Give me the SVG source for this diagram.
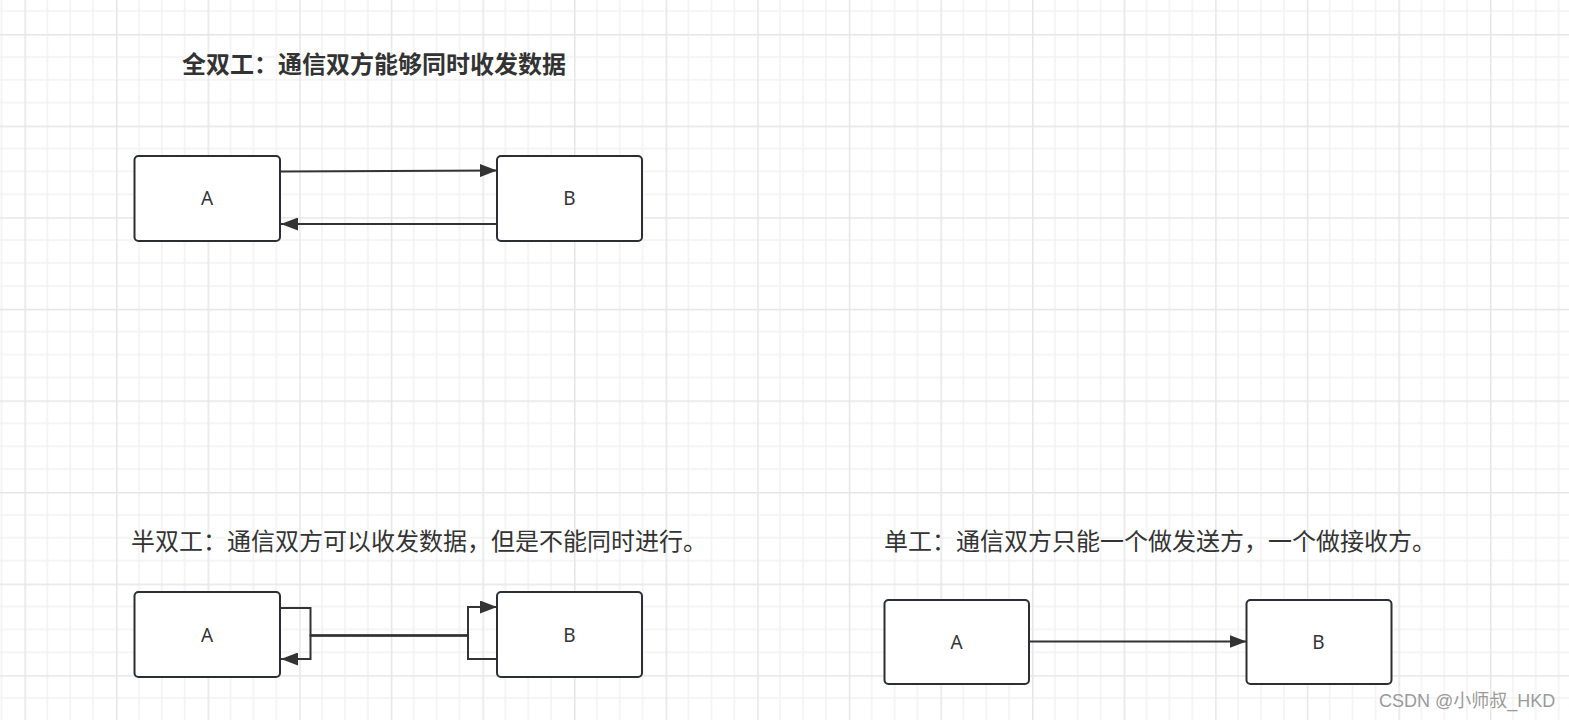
<svg xmlns="http://www.w3.org/2000/svg" width="1569" height="720" viewBox="0 0 1569 720">
<style>
.node rect{fill:#fff;stroke:#2b2e33;stroke-width:2}
.node text{font-family:"Noto Sans","Liberation Sans",sans-serif;font-size:19px;fill:#333;text-anchor:middle}
.conn{fill:none;stroke:#333;stroke-width:2}
.title{font-family:"Noto Sans CJK SC",sans-serif;font-size:24px;fill:#333}
</style>
<defs>
<pattern id="grid" x="116" y="34" width="91.6" height="91.6" patternUnits="userSpaceOnUse">
<path d="M22.9 0V91.6M45.8 0V91.6M68.7 0V91.6M0 22.9H91.6M0 45.8H91.6M0 68.7H91.6" stroke="#f2f2f2" stroke-width="1.5" fill="none"/>
<path d="M0.75 0V91.6M0 0.75H91.6" stroke="#e6e6e6" stroke-width="1.5" fill="none"/>
</pattern>
<marker id="arr" viewBox="0 0 17 13" refX="17" refY="6.5" markerWidth="17" markerHeight="13" markerUnits="userSpaceOnUse" orient="auto">
<path d="M0 0L17 6.5L0 13Z" fill="#333"/>
</marker>
</defs>
<rect width="1569" height="720" fill="#fff"/>
<rect width="1569" height="720" fill="url(#grid)"/>

<text class="title" x="182" y="73" font-weight="bold">全双工：通信双方能够同时收发数据</text>
<text class="title" x="131" y="550" font-size="23.5">半双工：通信双方可以收发数据，但是不能同时进行。</text>
<text class="title" x="884" y="550" font-size="23.5">单工：通信双方只能一个做发送方，一个做接收方。</text>

<g id="full-a" class="node"><rect x="134.5" y="156" width="145.5" height="85" rx="4"/><text x="207" y="205">A</text></g>
<g id="full-b" class="node"><rect x="497" y="156" width="145" height="85" rx="4"/><text x="569.5" y="205">B</text></g>
<g id="half-a" class="node"><rect x="134.5" y="592" width="145.5" height="85" rx="4"/><text x="207" y="642">A</text></g>
<g id="half-b" class="node"><rect x="497" y="592" width="145" height="85" rx="4"/><text x="569.5" y="642">B</text></g>
<g id="simplex-a" class="node"><rect x="884.5" y="600" width="144.5" height="84" rx="4"/><text x="956.5" y="649">A</text></g>
<g id="simplex-b" class="node"><rect x="1246.5" y="600" width="145" height="84" rx="4"/><text x="1318.5" y="649">B</text></g>

<g id="connectors">
<path class="conn" d="M281 171.5L497 170.5" marker-end="url(#arr)"/>
<path class="conn" d="M497 224L281 224" marker-end="url(#arr)"/>
<path class="conn" d="M281 608H310.5V635.5H468V607H497" marker-end="url(#arr)"/>
<path class="conn" d="M497 659H468V635.5H310.5V659H281" marker-end="url(#arr)"/>
<path class="conn" d="M310.5 635.5H468" stroke-width="3"/>
<path class="conn" d="M1030 641.5H1246.5" marker-end="url(#arr)"/>
</g>

<text x="1379" y="707" font-family="'Liberation Sans','Noto Sans CJK SC',sans-serif" font-size="18" fill="#9a9a9a">CSDN @小师叔_HKD</text>
</svg>
